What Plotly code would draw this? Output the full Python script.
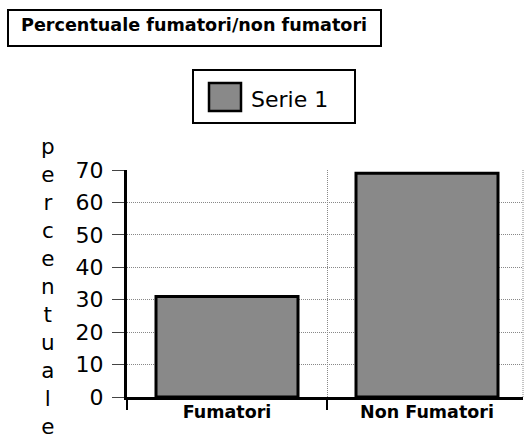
import plotly.graph_objects as go

categories = ["Fumatori", "Non Fumatori"]
values = [31, 69]
series_name = "Serie 1"
y_ticks = [0, 10, 20, 30, 40, 50, 60, 70]
title_text = "Percentuale fumatori/non fumatori"
y_title = "percentuale"

W, H = 525, 434
L, R, T, B = 127, 2, 170, 37
pw = W - L - R
ph = H - T - B

def px(x):
    return (x - L) / pw

def py(y):
    return (H - B - y) / ph

bar_color = "#898989"
grid_dash = "1px,1px"

fig = go.Figure()
fig.add_trace(go.Bar(
    x=categories, y=values, name=series_name, width=0.71,
    marker=dict(color=bar_color, line=dict(color="black", width=3)),
    showlegend=False,
))

fig.update_layout(
    width=W, height=H,
    margin=dict(l=L, r=R, t=T, b=B, pad=0),
    paper_bgcolor="white", plot_bgcolor="white",
    font=dict(family="DejaVu Sans", color="black"),
    bargap=0.29,
    xaxis=dict(
        range=[-0.5, 1.48], tickson="boundaries", ticks="outside", ticklen=10,
        tickwidth=2, tickcolor="black",
        showline=True, linecolor="black", linewidth=2.5,
        showgrid=True, gridcolor="#888", griddash=grid_dash, gridwidth=1,
        tickfont=dict(family="DejaVu Sans", size=17.5, color="black", weight="bold"),
        ticklabelstandoff=-3,
        fixedrange=True,
    ),
    yaxis=dict(
        range=[0, 70], tickvals=y_ticks, ticks="outside", ticklen=12,
        tickwidth=1, tickcolor="#444",
        showline=True, linecolor="black", linewidth=3,
        showgrid=True, gridcolor="#888", griddash=grid_dash, gridwidth=1,
        zeroline=False,
        tickfont=dict(family="DejaVu Sans", size=22, color="black"),
        ticklabelstandoff=4,
        fixedrange=True,
    ),
)

shapes = []
# right dotted border of plot area
shapes.append(dict(type="line", xref="paper", yref="paper", x0=1, x1=1, y0=0, y1=1,
                   line=dict(color="#888", width=1, dash=grid_dash)))
# title box
shapes.append(dict(type="rect", xref="paper", yref="paper",
                   x0=px(8), x1=px(381), y0=py(46), y1=py(10),
                   line=dict(color="black", width=2), fillcolor="white", layer="below"))
# legend box
shapes.append(dict(type="rect", xref="paper", yref="paper",
                   x0=px(193), x1=px(355), y0=py(123), y1=py(70),
                   line=dict(color="black", width=2), fillcolor="white", layer="below"))
# legend swatch
shapes.append(dict(type="rect", xref="paper", yref="paper",
                   x0=px(209), x1=px(241), y0=py(111), y1=py(83),
                   line=dict(color="black", width=2.5), fillcolor=bar_color))
fig.update_layout(shapes=shapes)

annotations = [
    dict(text="<b>" + title_text + "</b>", xref="paper", yref="paper",
         x=px(19), y=py(25), xanchor="left", yanchor="middle", showarrow=False,
         font=dict(family="DejaVu Sans", size=17.6, color="black")),
    dict(text=series_name, xref="paper", yref="paper",
         x=px(249), y=py(99), xanchor="left", yanchor="middle", showarrow=False,
         font=dict(family="DejaVu Sans", size=22, color="black")),
    dict(text="<br>".join(list(y_title)), xref="paper", yref="paper",
         x=px(48), y=py(286), xanchor="center", yanchor="middle", showarrow=False,
         align="center",
         font=dict(family="DejaVu Sans", size=21.5, color="black")),
]
fig.update_layout(annotations=annotations)

fig.write_html("out.html", config={"displayModeBar": False},
               post_script="document.body.style.margin='0';")
